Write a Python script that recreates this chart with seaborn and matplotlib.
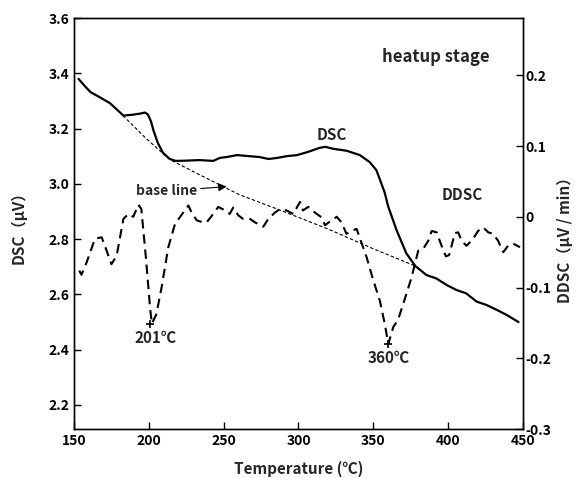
import matplotlib
matplotlib.use("Agg")
import matplotlib.pyplot as plt
import seaborn as sns
import pandas as pd

# --- data ---
dsc_temp = [153, 157, 161, 167, 174, 178, 183, 189, 194, 197.5, 199.5, 201.5, 203, 206,
            209.5, 214, 218, 225, 234, 243, 247.5, 252, 259, 267.5, 274, 280, 286, 292,
            299, 306, 314, 318, 323, 332, 341, 347.5, 352, 354.5, 357.5, 360, 365.5, 372,
            378, 385.5, 392, 399, 405.5, 412, 419, 425.5, 432.5, 439, 447]
dsc_val = [3.380, 3.355, 3.332, 3.314, 3.292, 3.272, 3.247, 3.250, 3.254, 3.258, 3.250,
           3.225, 3.195, 3.148, 3.112, 3.090, 3.083, 3.084, 3.086, 3.083, 3.094, 3.097,
           3.104, 3.100, 3.097, 3.090, 3.094, 3.100, 3.104, 3.115, 3.130, 3.134, 3.127,
           3.120, 3.104, 3.079, 3.050, 3.014, 2.970, 2.917, 2.833, 2.749, 2.703, 2.670,
           2.658, 2.634, 2.616, 2.604, 2.574, 2.562, 2.544, 2.526, 2.500]

ddsc_temp = [153.5, 155, 158.5, 164, 168.5, 171.8, 175, 178.5, 183, 186.3, 189.6, 193, 195,
             198, 200.8, 202, 205, 208.5, 213, 217.5, 223, 226.4, 228.6, 232, 236.4, 238.6,
             243, 246.4, 251, 254, 256.4, 259.8, 263, 267.6, 271, 276.5, 279.8, 284.3,
             287.6, 292, 296.5, 301, 303, 306.5, 311, 315.5, 317.7, 322, 325.5, 328.8, 332,
             335.5, 338.8, 342, 345.5, 350, 354.4, 357.7, 360, 363.3, 366.6, 370, 375.5,
             380, 383.4, 386.7, 389, 392.3, 395.6, 398.5, 400.7, 404.5, 406.7, 409, 412.3,
             416.7, 420, 423.4, 426.8, 430, 433.4, 436.8, 440, 443.5, 448]
ddsc_val = [-0.076, -0.082, -0.064, -0.031, -0.029, -0.048, -0.067, -0.055, -0.003, 0.004,
            0.000, 0.017, 0.011, -0.057, -0.128, -0.151, -0.138, -0.100, -0.043, -0.010,
            0.006, 0.016, 0.006, -0.005, -0.008, -0.008, 0.004, 0.014, 0.009, 0.004, 0.013,
            0.002, -0.003, -0.003, -0.008, -0.014, -0.003, 0.006, 0.011, 0.009, 0.004, 0.021,
            0.009, 0.014, 0.006, -0.001, -0.012, -0.005, 0.000, -0.008, -0.024, -0.020,
            -0.017, -0.036, -0.057, -0.090, -0.119, -0.152, -0.180, -0.156, -0.145, -0.123,
            -0.086, -0.048, -0.045, -0.034, -0.020, -0.022, -0.041, -0.056, -0.054, -0.023,
            -0.022, -0.034, -0.041, -0.031, -0.020, -0.015, -0.022, -0.024, -0.034, -0.050,
            -0.041, -0.038, -0.043]

base_temp = [182.7, 198, 214, 235, 260, 290, 320, 350, 378]
base_val = [3.247, 3.165, 3.088, 3.030, 2.962, 2.900, 2.836, 2.765, 2.703]

peak_temp = [201, 360]
peak_val = [-0.151, -0.180]
peak_labels = ["201℃", "360℃"]

dsc_df = pd.DataFrame({"temp": dsc_temp, "dsc": dsc_val})
ddsc_df = pd.DataFrame({"temp": ddsc_temp, "ddsc": ddsc_val})
base_df = pd.DataFrame({"temp": base_temp, "dsc": base_val})

sns.set_style("ticks")
plt.rcParams["font.family"] = ["Noto Sans CJK JP", "DejaVu Sans"]
plt.rcParams["font.weight"] = "bold"
plt.rcParams["axes.labelweight"] = "bold"
plt.rcParams["xtick.direction"] = "in"
plt.rcParams["ytick.direction"] = "in"

fig = plt.figure(figsize=(5.8, 4.78), dpi=100)
ax = fig.add_axes([0.1276, 0.1025, 0.7741, 0.8598])
ax2 = ax.twinx()

sns.lineplot(data=dsc_df, x="temp", y="dsc", ax=ax, color="black", linewidth=1.6,
             estimator=None, sort=False)
sns.lineplot(data=base_df, x="temp", y="dsc", ax=ax, color="black", linewidth=0.8,
             linestyle=(0, (3, 2)), estimator=None, sort=False)
sns.lineplot(data=ddsc_df, x="temp", y="ddsc", ax=ax2, color="black", linewidth=1.5,
             linestyle=(0, (4.5, 2.8)), estimator=None, sort=False)
ax2.plot(peak_temp, peak_val, linestyle="none", marker="+", color="black",
         markersize=6, markeredgewidth=1.2)

ax.set_xlim(150, 450)
ax.set_ylim(2.113, 3.6)
ax2.set_ylim(-0.3, 0.281)
ax.set_xticks([150, 200, 250, 300, 350, 400, 450])
ax.set_yticks([2.2, 2.4, 2.6, 2.8, 3.0, 3.2, 3.4, 3.6])
ax.set_yticklabels([f"{v:.1f}" for v in ax.get_yticks()])
ax2.set_yticks([-0.3, -0.2, -0.1, 0, 0.1, 0.2])
ax2.set_yticklabels(["-0.3", "-0.2", "-0.1", "0", "0.1", "0.2"])

for a in (ax, ax2):
    a.tick_params(labelsize=10, length=5, width=1, colors="black")
    for s in a.spines.values():
        s.set_linewidth(1.0)
        s.set_color("black")
ax2.tick_params(axis="y", pad=1.5)

ax.set_xlabel("Temperature (℃)", fontsize=11)
ax.xaxis.set_label_coords(0.5, -0.077)
ax.set_ylabel("DSC（μV）", fontsize=11)
ax.yaxis.set_label_coords(-0.105, 0.5)
ax2.set_ylabel("DDSC（μV / min）", fontsize=11, rotation=90)
ax2.yaxis.set_label_coords(1.075, 0.47)

ax.text(392, 3.459, "heatup stage", fontsize=12, ha="center", va="center")
ax.text(322, 3.177, "DSC", fontsize=11, ha="center", va="center")
ax.text(409.5, 2.96, "DDSC", fontsize=11, ha="center", va="center")
ax.annotate("base line", xy=(252, 2.99), xytext=(212, 2.974), fontsize=10,
            ha="center", va="center",
            arrowprops=dict(arrowstyle="-|>", color="black", lw=0.8,
                            mutation_scale=12, shrinkA=0, shrinkB=0))
ax.text(204.5, 2.442, peak_labels[0], fontsize=11, ha="center", va="center")
ax.text(360.5, 2.37, peak_labels[1], fontsize=11, ha="center", va="center")

fig.savefig("out.png", dpi=100)
